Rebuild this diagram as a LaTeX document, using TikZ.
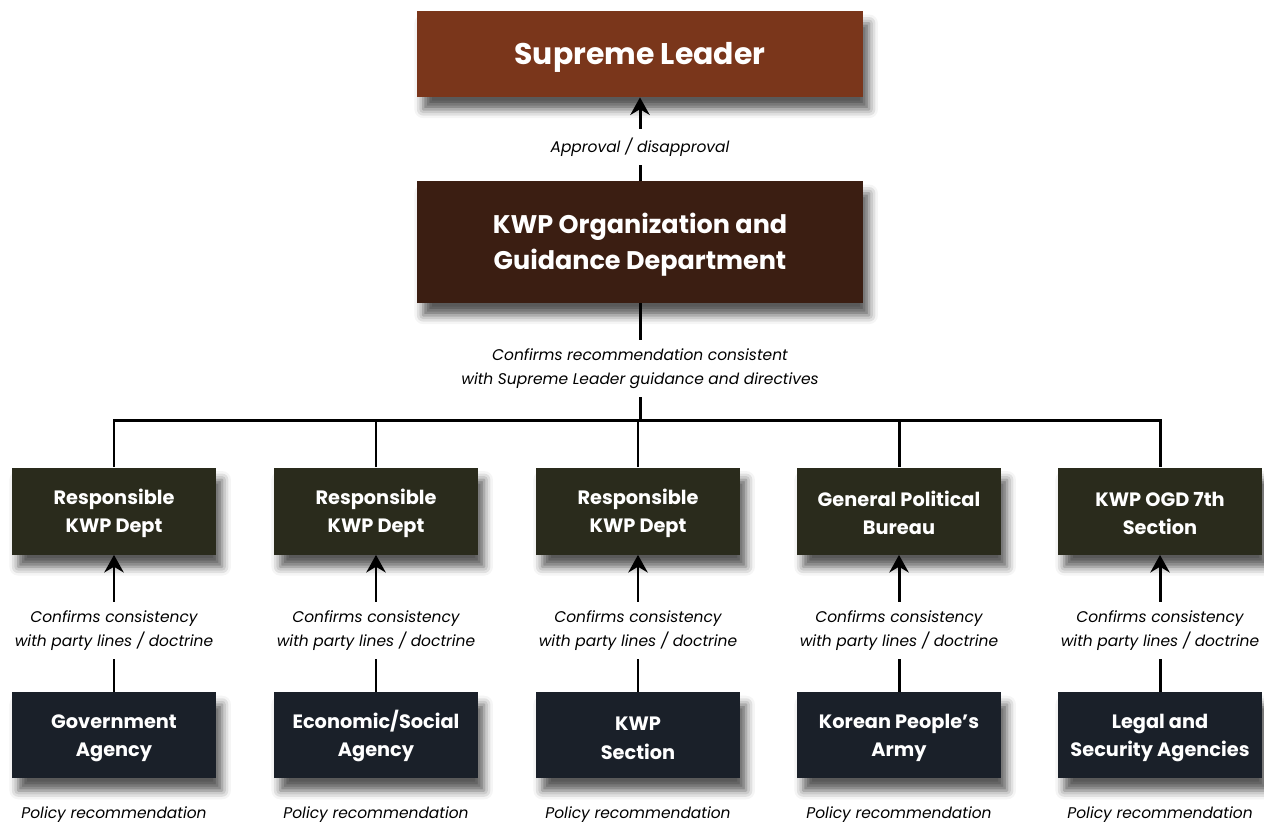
\documentclass[tikz,border=0pt]{standalone}
\usepackage{fontspec}
\setmainfont{Poppins}
\usetikzlibrary{positioning,arrows.meta,shadows.blur}

\definecolor{leaderbrown}{HTML}{7A361B}
\definecolor{ogdbrown}{HTML}{3B1E12}
\definecolor{deptolive}{HTML}{2A2B1C}
\definecolor{agencynavy}{HTML}{1A2029}

\tikzset{
    box/.style={rectangle, text=white, font=\bfseries, align=center,
        minimum width=4.08cm, minimum height=1.74cm, inner sep=2pt,
        blur shadow={shadow xshift=3.5pt, shadow yshift=-7pt, shadow blur radius=5pt, shadow opacity=65}},
    bigbox/.style={box, minimum width=8.92cm},
    link/.style={line width=1.7pt, black},
    uparrow/.style={link, -{Stealth[length=10pt, width=11pt]}},
    note/.style={fill=white, font=\itshape\fontsize{8.8}{13.5}\selectfont, align=center, inner sep=5pt},
}

\begin{document}
\begin{tikzpicture}
    \useasboundingbox (0,0) rectangle (25.28,-16.5);

    \node [bigbox, fill=leaderbrown, minimum height=1.72cm, font=\bfseries\fontsize{17}{20}\selectfont] (leader) at (12.8,-1.08) {\rule{0pt}{16pt}Supreme Leader};
    \node [bigbox, fill=ogdbrown, minimum height=2.44cm, font=\bfseries\fontsize{14.5}{21}\selectfont] (ogd) at (12.8,-4.84) {\strut KWP Organization and\\Guidance Department};

    \node [box, fill=deptolive, font=\bfseries\fontsize{11}{16}\selectfont] (dept1) at (2.28,-10.22) {\strut Responsible\\KWP Dept};
    \node [box, fill=deptolive, font=\bfseries\fontsize{11}{16}\selectfont] (dept2) at (7.52,-10.22) {\strut Responsible\\KWP Dept};
    \node [box, fill=deptolive, font=\bfseries\fontsize{11}{16}\selectfont] (dept3) at (12.76,-10.22) {\strut Responsible\\KWP Dept};
    \node [box, fill=deptolive, font=\bfseries\fontsize{11}{16}\selectfont] (dept4) at (17.98,-10.22) {\strut General Political\\Bureau};
    \node [box, fill=deptolive, font=\bfseries\fontsize{11}{16}\selectfont] (dept5) at (23.2,-10.22) {\strut KWP OGD 7th\\Section};

    \node [box, fill=agencynavy, minimum height=1.72cm, font=\bfseries\fontsize{11}{16}\selectfont, below=2.74cm of dept1] (agency1) {\strut Government\\Agency};
    \node [box, fill=agencynavy, minimum height=1.72cm, font=\bfseries\fontsize{11}{16}\selectfont, below=2.74cm of dept2] (agency2) {\strut Economic/Social\\Agency};
    \node [box, fill=agencynavy, minimum height=1.72cm, font=\bfseries\fontsize{11}{16}\selectfont, below=2.74cm of dept3] (agency3) {\strut KWP\\Section};
    \node [box, fill=agencynavy, minimum height=1.72cm, font=\bfseries\fontsize{11}{16}\selectfont, below=2.74cm of dept4] (agency4) {\strut Korean People’s\\Army};
    \node [box, fill=agencynavy, minimum height=1.72cm, font=\bfseries\fontsize{11}{16}\selectfont, below=2.74cm of dept5] (agency5) {\strut Legal and\\Security Agencies};

    \node [note, inner sep=1pt] (pol1) at (2.28,-16.3) {Policy recommendation};
    \node [note, inner sep=1pt] (pol2) at (7.52,-16.3) {Policy recommendation};
    \node [note, inner sep=1pt] (pol3) at (12.76,-16.3) {Policy recommendation};
    \node [note, inner sep=1pt] (pol4) at (17.98,-16.3) {Policy recommendation};
    \node [note, inner sep=1pt] (pol5) at (23.2,-16.3) {Policy recommendation};

    \coordinate (bar) at (12.8,-8.4);

    \draw [uparrow] (ogd) -- node [note, pos=0.4] (approval) {Approval / disapproval} (leader);
    \draw [link] (ogd) -- node [note, pos=0.56] (confirm) {Confirms recommendation consistent\\with Supreme Leader guidance and directives} (bar);

    \draw [link] (dept1.north) |- (bar) -| (dept5.north);
    \draw [link] (dept2.north) -- (dept2.north |- bar);
    \draw [link] (dept3.north) -- (dept3.north |- bar);
    \draw [link] (dept4.north) -- (dept4.north |- bar);

    \draw [uparrow] (agency1) -- node [note, pos=0.445] (check1) {Confirms consistency\\with party lines / doctrine} (dept1);
    \draw [uparrow] (agency2) -- node [note, pos=0.445] (check2) {Confirms consistency\\with party lines / doctrine} (dept2);
    \draw [uparrow] (agency3) -- node [note, pos=0.445] (check3) {Confirms consistency\\with party lines / doctrine} (dept3);
    \draw [uparrow] (agency4) -- node [note, pos=0.445] (check4) {Confirms consistency\\with party lines / doctrine} (dept4);
    \draw [uparrow] (agency5) -- node [note, pos=0.445] (check5) {Confirms consistency\\with party lines / doctrine} (dept5);
\end{tikzpicture}
\end{document}
